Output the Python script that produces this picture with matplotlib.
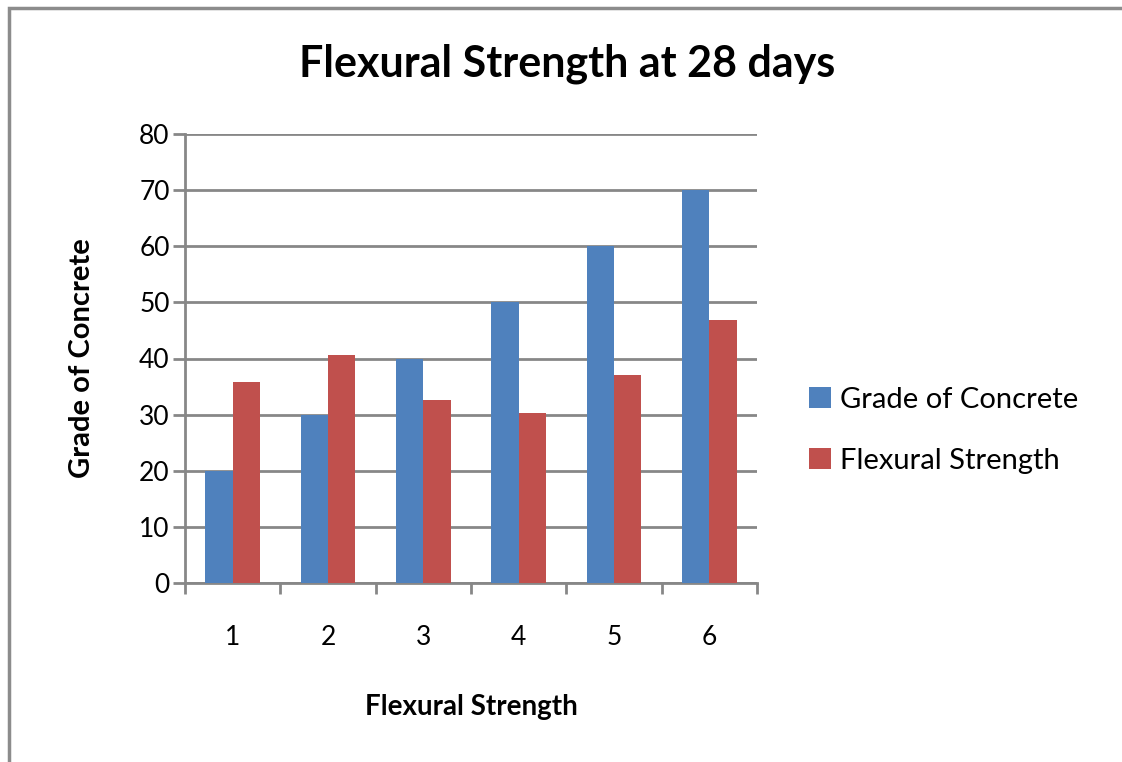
import matplotlib.pyplot as plt
import numpy as np
from matplotlib.patches import Rectangle

# data
categories = ['1', '2', '3', '4', '5', '6']
grade = [20, 30, 40, 50, 60, 70]
flexural = [35.8, 40.6, 32.6, 30.3, 37.1, 46.8]

plt.rcParams['font.family'] = ['Lato', 'DejaVu Sans']

fig = plt.figure(figsize=(11.22, 7.62), dpi=100)
ax = fig.add_axes([185 / 1122, 1 - 583 / 762, 572 / 1122, 449 / 762])

blue = '#4F81BD'
red = '#C0504D'
grid_color = '#878787'

x = np.arange(len(categories))
w = 0.285
ax.bar(x - w / 2, grade, w, color=blue, label='Grade of Concrete', zorder=3)
ax.bar(x + w / 2, flexural, w, color=red, label='Flexural Strength', zorder=3)

ax.set_xlim(-0.5, 5.5)
ax.set_ylim(0, 80)
ax.set_yticks(range(0, 81, 10))
ax.set_xticks(x)
ax.set_xticklabels(categories)
ax.set_xticks(np.arange(-0.5, 6, 1), minor=True)

ax.yaxis.grid(True, color=grid_color, linewidth=2, zorder=0)
for s in ['top', 'right']:
    ax.spines[s].set_visible(False)
for s in ['left', 'bottom']:
    ax.spines[s].set_color(grid_color)
    ax.spines[s].set_linewidth(2)

ax.tick_params(axis='x', which='major', length=0, pad=30, labelsize=19)
ax.tick_params(axis='x', which='minor', length=8, width=2, color=grid_color, direction='out')
ax.tick_params(axis='y', length=9, width=2, color=grid_color, pad=2, labelsize=19)

ax.set_xlabel('Flexural Strength', fontsize=20, fontweight='bold', labelpad=32)
ax.set_ylabel('Grade of Concrete', fontsize=21, fontweight='bold', labelpad=32)

fig.text(567 / 1122, 1 - 64 / 762, 'Flexural Strength at 28 days', fontsize=31,
         fontweight='bold', ha='center', va='center')

ax.legend(loc='center left', bbox_to_anchor=(1.045, 0.34), frameon=False,
          fontsize=21, handlelength=0.75, handleheight=0.75, labelspacing=1.2,
          handletextpad=0.3)

# frame around the chart
fig.patches.append(Rectangle((9 / 1122, -0.01), 1.2, 1 - 8 / 762 + 0.01,
                             transform=fig.transFigure, fill=False,
                             edgecolor='#8c8c8c', linewidth=2.5))

fig.savefig('out.png', dpi=100)
